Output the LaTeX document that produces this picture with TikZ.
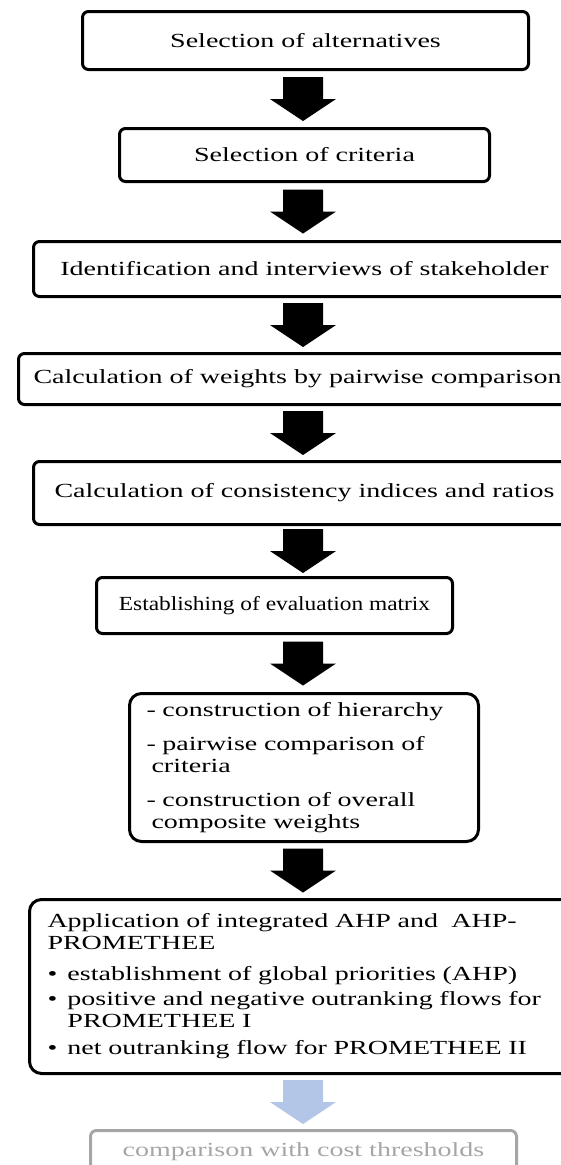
\documentclass[tikz,border=0pt]{standalone}
\usepackage{fontspec}
\setmainfont{Liberation Serif}[FakeStretch=1.40]
\newfontfamily\narrowrm{Liberation Serif}[FakeStretch=1.17]
\usetikzlibrary{calc}
\definecolor{arrowblue}{HTML}{B4C6E7}
\definecolor{boxgray}{HTML}{A6A6A6}
\tikzset{
  stepbox/.style={draw=black, line width=3pt, rounded corners=6pt, inner sep=0pt,
    font=\fontsize{20}{22}\selectfont, anchor=north west},
  listbox/.style={stepbox, rounded corners=12pt, align=left, inner ysep=0pt},
  graybox/.style={stepbox, draw=boxgray, text=boxgray, line width=3pt}
}
\newcommand\blockarrow[3][black]{%
  \fill[#1] let \p1=($(#2.south -| ax)$), \p2=($(#3.north -| ax)$),
    \p3=($(\p1)!0.5!(\p2)$) in
  (\x3-20pt,\y3+22pt) -- (\x3+20pt,\y3+22pt) -- (\x3+20pt,\y3) --
  (\x3+33pt,\y3) -- (\x3,\y3-22pt) -- (\x3-33pt,\y3) --
  (\x3-20pt,\y3) -- cycle;}
\begin{document}
\begin{tikzpicture}[x=1pt,y=-1pt]
\useasboundingbox (0,0) rectangle (561,1165);
\coordinate (ax) at (303,0);
\node[stepbox, minimum width=446pt, minimum height=58pt] (b1) at (81,10) {Selection of alternatives};
\node[stepbox, minimum width=370pt, minimum height=53pt] (b2) at (118,127) {Selection of criteria};
\node[stepbox, minimum width=542pt, minimum height=55pt] (b3) at (32,240) {Identification and interviews of stakeholder};
\node[stepbox, minimum width=558pt, minimum height=51pt] (b4) at (17,352) {Calculation of weights by pairwise comparison};
\node[stepbox, minimum width=542pt, minimum height=63pt] (b5) at (32,460) {Calculation of consistency indices and ratios};
\node[stepbox, minimum width=356pt, minimum height=56pt, font=\fontsize{20}{22}\narrowrm] (b6) at (95,576) {Establishing of evaluation matrix};
\node[listbox, minimum width=349pt, minimum height=148pt, inner xsep=17pt, text width=315pt] (b7) at (128,692)
  {- construction of hierarchy\\[12pt]
   - pairwise comparison of\\
   \hspace*{5pt}criteria\\[12pt]
   - construction of overall\\
   \hspace*{5pt}composite weights};
\node[listbox, minimum width=550pt, minimum height=174pt, inner xsep=18pt, text width=514pt] (b8) at (28,898)
  {Application of integrated AHP and\ \ AHP-\\
   PROMETHEE\\[9pt]
   \makebox[20pt][l]{\textbullet}establishment of global priorities (AHP)\\[3pt]
   \makebox[20pt][l]{\textbullet}positive and negative outranking flows for\\
   \hspace*{20pt}PROMETHEE I\\[5pt]
   \makebox[20pt][l]{\textbullet}net outranking flow for PROMETHEE II};
\node[graybox, minimum width=426pt, inner ysep=5pt, text height=21pt, text depth=40pt] (b9) at (89,1129) {comparison with cost thresholds};
\blockarrow{b1}{b2}
\blockarrow{b2}{b3}
\blockarrow{b3}{b4}
\blockarrow{b4}{b5}
\blockarrow{b5}{b6}
\blockarrow{b6}{b7}
\blockarrow{b7}{b8}
\blockarrow[arrowblue]{b8}{b9}
\end{tikzpicture}
\end{document}
